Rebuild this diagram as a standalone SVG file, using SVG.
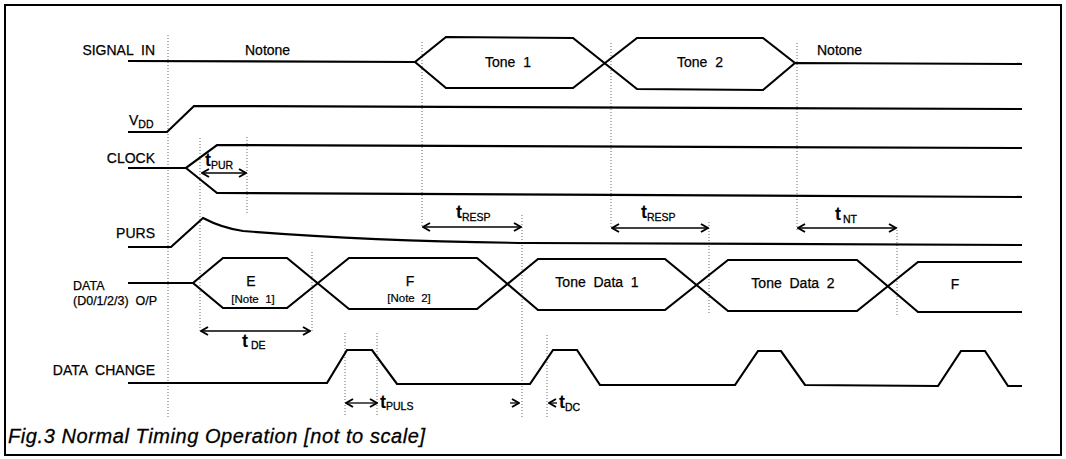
<svg xmlns="http://www.w3.org/2000/svg" width="1066" height="459" viewBox="0 0 1066 459">
<style>
.bg{fill:#fff}
.frame{fill:none;stroke:#000;stroke-width:2}
.w{fill:none;stroke:#000;stroke-width:2.2;stroke-linejoin:miter}
.dot{fill:none;stroke:#666;stroke-width:1;stroke-dasharray:1 2}
.arr{fill:none;stroke:#000;stroke-width:1.3}
.lbl{font-family:"Liberation Sans",Arial,sans-serif;font-size:14px;fill:#000;stroke:#000;stroke-width:0.25}
.sm{font-family:"Liberation Sans",Arial,sans-serif;font-size:11.5px;fill:#000;stroke:#000;stroke-width:0.2}
.dl{font-family:"Liberation Sans",Arial,sans-serif;font-size:12.5px;fill:#000;stroke:#000;stroke-width:0.25}
.t{font-family:"Liberation Sans",Arial,sans-serif;font-size:18px;font-weight:bold;fill:#000}
.sub{font-family:"Liberation Sans",Arial,sans-serif;font-size:10.5px;font-weight:normal;fill:#000;stroke:#000;stroke-width:0.3}
.cap{font-family:"Liberation Sans",Arial,sans-serif;font-size:20px;font-style:italic;fill:#000;stroke:#000;stroke-width:0.3}
.mid{text-anchor:middle}
.end{text-anchor:end}
</style>
<defs>
<marker id="ah" viewBox="0 0 10 10" refX="9" refY="5" markerWidth="10" markerHeight="10" markerUnits="userSpaceOnUse" orient="auto-start-reverse">
<path d="M2,1 L9,5 L2,9" fill="none" stroke="#000" stroke-width="2"/>
</marker>
</defs>
<rect class="bg" x="0" y="0" width="1066" height="459"/>
<rect class="frame" x="5" y="5" width="1056" height="450"/>

<g id="guides">
<path class="dot" d="M168,35V418 M200,138V333 M247,137V215 M312,252V333 M422,42V228 M611,43V228 M522,215V418 M709,222V314 M797,43V232 M897,227V315 M345,333V415 M377,333V415 M547,335V418"/>
</g>

<g id="signal-in">
<text class="lbl end" x="155" y="55" xml:space="preserve">SIGNAL  IN</text>
<path class="w" d="M128,61 L415,62 L446,37 L573,38 L637,89 L763,90 L795,63 L1022,64"/>
<path class="w" d="M415,62 L446,88 L573,88 L637,38 L763,38 L795,63"/>
<text class="lbl" x="245" y="55">Notone</text>
<text class="lbl mid" x="508" y="67" xml:space="preserve">Tone  1</text>
<text class="lbl mid" x="700" y="67" xml:space="preserve">Tone  2</text>
<text class="lbl" x="817" y="55">Notone</text>
</g>

<g id="vdd">
<text class="lbl" x="129" y="125">V<tspan class="sub" dy="3">DD</tspan></text>
<path class="w" d="M128,132 L167,132 L194,106 L1022,109"/>
</g>

<g id="clock">
<text class="lbl end" x="155" y="163">CLOCK</text>
<path class="w" d="M128,168 L186,168 L217,145 L1022,148"/>
<path class="w" d="M186,168 L217,193 L1022,197"/>
</g>

<g id="purs">
<text class="lbl end" x="155" y="238">PURS</text>
<path class="w" d="M128,247 L171,247 L203,218 Q222,228 243,231 C330,238 430,242 530,243 L1022,245"/>
</g>

<g id="data">
<text class="dl" x="73" y="290">DATA</text>
<text class="dl" x="73" y="305" xml:space="preserve">(D0/1/2/3)  O/P</text>
<path class="w" d="M128,283 L193,283 L223,258 L287,258 L349,309 L477,309 L538,259 L665,259 L728,311 L857,311 L918,262 L1022,262"/>
<path class="w" d="M193,283 L223,308 L287,308 L349,258 L477,258 L538,310 L665,310 L728,260 L857,260 L918,312 L1022,312"/>
<text class="lbl mid" x="251" y="286">E</text>
<text class="sm mid" x="253" y="303" xml:space="preserve">[Note  1]</text>
<text class="lbl mid" x="410" y="286">F</text>
<text class="sm mid" x="409" y="302" xml:space="preserve">[Note  2]</text>
<text class="lbl mid" x="597" y="287" xml:space="preserve">Tone  Data  1</text>
<text class="lbl mid" x="793" y="288" xml:space="preserve">Tone  Data  2</text>
<text class="lbl mid" x="955" y="289">F</text>
</g>

<g id="data-change">
<text class="lbl end" x="155" y="375" xml:space="preserve">DATA  CHANGE</text>
<path class="w" d="M128,383 L327,383 L347,350 L372,350 L397,384 L530,384 L553,350 L577,350 L600,385 L735,385 L758,351 L781,351 L805,385 L938,386 L961,351 L985,351 L1008,386 L1022,386"/>
</g>

<g id="connectors">
<path class="arr" d="M202,173 L246,173" marker-start="url(#ah)" marker-end="url(#ah)"/>
<path class="arr" d="M423,227 L521,227" marker-start="url(#ah)" marker-end="url(#ah)"/>
<path class="arr" d="M612,228 L708,228" marker-start="url(#ah)" marker-end="url(#ah)"/>
<path class="arr" d="M798,228 L896,228" marker-start="url(#ah)" marker-end="url(#ah)"/>
<path class="arr" d="M201,331 L310,331" marker-start="url(#ah)" marker-end="url(#ah)"/>
<path class="arr" d="M346,403 L377,403" marker-start="url(#ah)" marker-end="url(#ah)"/>
<path class="arr" d="M510,403 L519,403" marker-end="url(#ah)"/>
<path class="arr" d="M557,403 L549,403" marker-end="url(#ah)"/>
</g>

<g id="timing-labels">
<text class="t" x="205" y="166">t<tspan class="sub" dy="3">PUR</tspan></text>
<text class="t" x="456" y="218">t<tspan class="sub" dy="3">RESP</tspan></text>
<text class="t" x="641" y="218">t<tspan class="sub" dy="3">RESP</tspan></text>
<text class="t" x="835" y="220">t<tspan class="sub" dy="3" dx="2">NT</tspan></text>
<text class="t" x="242" y="347">t<tspan class="sub" dy="2" dx="3">DE</tspan></text>
<text class="t" x="380" y="408">t<tspan class="sub" dy="2">PULS</tspan></text>
<text class="t" x="559" y="408">t<tspan class="sub" dy="3">DC</tspan></text>
</g>

<g id="caption">
<text class="cap" x="8" y="443" textLength="417" lengthAdjust="spacing">Fig.3 Normal Timing Operation [not to scale]</text>
</g>
</svg>
